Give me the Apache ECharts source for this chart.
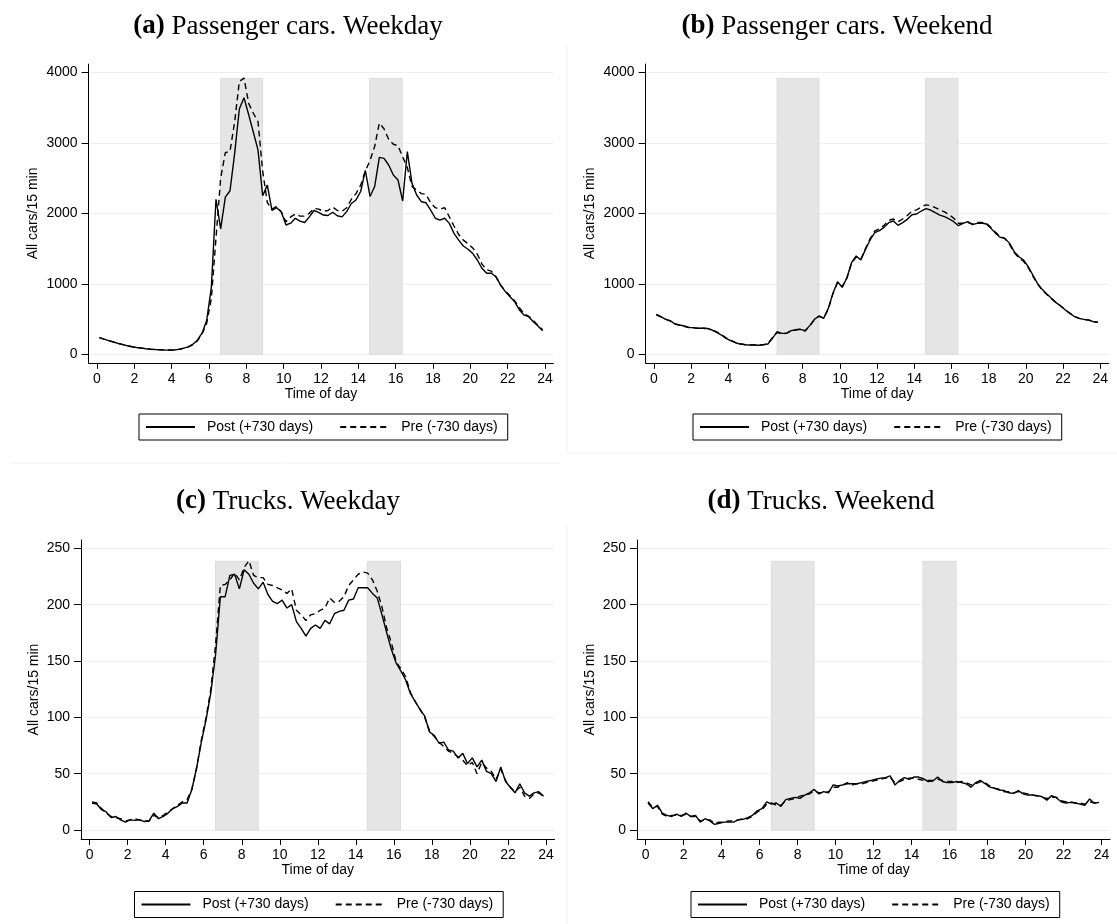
<!DOCTYPE html>
<html>
<head>
<meta charset="utf-8">
<title>Traffic counts by time of day</title>
<script src="https://cdn.jsdelivr.net/npm/echarts@6/dist/echarts.min.js"></script>
<style>
  html, body { margin: 0; padding: 0; background: #fff; }
  #chart { width: 1117px; height: 924px; }
</style>
</head>
<body>
<div id="chart"></div>
<script>
// 15-minute bins, plotted at the middle of each bin (hours)
var hours = [];
for (var i = 0; i < 96; i++) {
  hours.push(0.125 + i * 0.25);
}

var xTicks = [0, 2, 4, 6, 8, 10, 12, 14, 16, 18, 20, 22, 24];
var carTicks = [0, 1000, 2000, 3000, 4000];
var truckTicks = [0, 50, 100, 150, 200, 250];

// peak-hour bands (hours)
var bandMorning = [6.62, 8.87];
var bandAfternoon = [14.6, 16.35];
var carBandTop = 3915;
var truckBandTop = 238.5;

var postName = 'Post (+730 days)';
var preName = 'Pre (-730 days)';

// (a) Passenger cars, weekday
var carsWeekdayPost = [236, 215, 195, 175, 155, 138, 122, 108, 97, 88,
  80, 73, 68, 65, 62, 60, 62, 70, 85, 105,
  140, 200, 300, 480, 950, 2200, 1780, 2230, 2320, 2850,
  3480, 3640, 3400, 3150, 2900, 2250, 2400, 2040, 2080, 2020,
  1835, 1860, 1930, 1890, 1870, 1950, 2040, 2015, 1976, 1970,
  2015, 1966, 1950, 2024, 2140, 2190, 2310, 2610, 2240, 2380,
  2794, 2780, 2686, 2544, 2473, 2175, 2875, 2425, 2260, 2165,
  2150, 2047, 1930, 1905, 1930, 1858, 1716, 1620, 1537, 1490,
  1432, 1338, 1220, 1150, 1150, 1100, 983, 890, 818, 747,
  630, 558, 534, 463, 402, 336];
var carsWeekdayPre = [238, 216, 196, 176, 156, 139, 123, 109, 98, 89,
  81, 74, 69, 66, 63, 61, 63, 71, 86, 104,
  135, 190, 285, 440, 790, 1650, 2500, 2860, 2880, 3300,
  3870, 3920, 3560, 3420, 3300, 2600, 2150, 2060, 2100, 2020,
  1880, 1950, 1990, 1960, 1960, 2000, 2070, 2060, 2030, 2040,
  2090, 2040, 2030, 2080, 2200, 2280, 2400, 2600, 2750, 2950,
  3280, 3200, 3050, 2980, 2960, 2800, 2650, 2380, 2330, 2280,
  2270, 2150, 2080, 2060, 2080, 1950, 1820, 1700, 1620, 1570,
  1510, 1420, 1280, 1200, 1180, 1100, 980, 900, 830, 760,
  660, 580, 540, 480, 410, 350];

// (b) Passenger cars, weekend
var carsWeekendPost = [567, 534, 496, 478, 430, 416, 402, 383, 378, 369,
  373, 369, 345, 312, 274, 227, 194, 165, 147, 137,
  132, 132, 128, 137, 147, 227, 321, 298, 298, 336,
  345, 355, 336, 407, 496, 544, 510, 652, 865, 1030,
  950, 1087, 1300, 1395, 1338, 1489, 1622, 1726, 1754, 1801,
  1868, 1891, 1830, 1868, 1915, 1981, 1991, 2033, 2066, 2047,
  2009, 1976, 1953, 1920, 1882, 1825, 1858, 1882, 1839, 1858,
  1863, 1849, 1787, 1716, 1660, 1645, 1574, 1456, 1385, 1338,
  1243, 1125, 1007, 922, 856, 794, 733, 686, 629, 582,
  534, 511, 496, 487, 463, 454];
var carsWeekendPre = [560, 530, 500, 470, 435, 412, 398, 380, 375, 372,
  368, 365, 350, 318, 280, 235, 200, 170, 150, 140,
  135, 134, 130, 135, 150, 240, 310, 290, 300, 330,
  350, 360, 330, 400, 490, 540, 515, 640, 860, 1020,
  960, 1080, 1290, 1380, 1350, 1500, 1640, 1750, 1780, 1830,
  1900, 1920, 1880, 1920, 1970, 2030, 2050, 2090, 2120, 2110,
  2080, 2050, 2020, 1980, 1930, 1860, 1860, 1870, 1850, 1870,
  1870, 1860, 1800, 1730, 1670, 1640, 1560, 1440, 1370, 1320,
  1230, 1110, 1000, 910, 850, 790, 735, 685, 630, 580,
  535, 510, 495, 485, 465, 455];

// (c) Trucks, weekday
var trucksWeekdayPost = [24, 23, 18, 16, 11, 12, 9, 7, 9, 8.5,
  9, 7.5, 8, 15, 10, 12, 15, 19, 21, 24,
  24, 36, 55, 78, 98, 122, 156, 207, 207, 226,
  227, 214, 231, 227, 219, 214, 220, 209, 203, 201,
  204, 197, 200, 185, 179, 172, 179, 182, 179, 186,
  183, 192, 194, 195, 204, 205, 215, 215, 215, 210,
  206, 191, 175, 160, 148, 141, 133, 121, 114, 107,
  101, 87, 84, 77, 78, 71, 70, 64, 68, 59,
  64, 56, 62, 52, 50, 43, 56, 43, 38, 33,
  41, 33, 30, 33, 34, 30];
var trucksWeekdayPre = [25, 24, 19, 15, 12, 11, 10, 8, 9, 10,
  9, 8, 8, 13, 11, 13, 16, 19, 22, 25,
  27, 36, 55, 80, 100, 125, 165, 217, 218, 222,
  228, 222, 233, 239, 226, 224, 224, 218, 217, 215,
  213, 210, 214, 195, 191, 186, 191, 192, 195, 197,
  206, 202, 203, 207, 217, 222, 227, 229, 228, 222,
  212, 198, 179, 166, 149, 143, 136, 122, 114, 107,
  100, 88, 83, 78, 74, 70, 68, 65, 62, 57,
  60, 50, 60, 55, 52, 45, 54, 44, 38, 34,
  38, 30, 28, 32, 33, 30];

// (d) Trucks, weekend
var trucksWeekendPost = [24, 19, 22, 15, 13, 12, 14, 12, 15, 12,
  13, 7, 10, 8, 5, 6, 7, 7, 7, 9,
  9.5, 11, 13, 17, 19, 25, 23, 24, 21, 27,
  28, 29, 28, 31, 33, 36, 32, 34, 33, 40,
  39, 40, 41, 41, 41, 42, 43, 44, 45, 46,
  46.5, 48, 40, 44, 46.5, 45, 47, 47, 45.5, 43,
  43.5, 47, 43, 42, 42, 43, 42, 41, 38, 42,
  44, 41, 38, 37, 35.5, 35, 33, 32.5, 35, 32,
  31, 31, 30.5, 29.5, 26.5, 30.5, 28.7, 25, 24, 24.5,
  24, 23, 22, 27.5, 23.7, 24.5];
var trucksWeekendPre = [25, 20, 21, 14, 12, 13, 13, 13, 14, 12,
  12, 8, 9, 9, 6, 7, 7, 8, 8, 9,
  10, 10, 12, 16, 18, 23, 24, 22, 22, 26,
  27, 28, 30, 31, 32, 35, 33, 33, 34, 38,
  38, 40, 42, 40, 41, 41, 42, 43, 44, 45,
  46, 47, 42, 43, 45, 46, 46, 45, 44, 44,
  44, 45, 44, 43, 43, 42, 43, 42, 40, 41,
  43, 42, 39, 37, 36, 34, 34, 33, 34, 33,
  32, 31, 30, 29, 28, 29, 29, 26, 25, 25,
  24, 24, 23, 25, 24, 24];

var sansFont = '"Liberation Sans", Arial, Helvetica, sans-serif';
var serifFont = '"Liberation Serif", "Times New Roman", serif';
var gridColor = '#e9f1f2';
var frameColor = '#eef3f3';

var panels = [
  { tag: '(a)', title: 'Passenger cars. Weekday', cx: 288, ty: 13,
    grid: { left: 88.6, top: 64.1, width: 464.8, height: 298.7 },
    yMin: -120, yMax: 4117, yTicks: carTicks, bandTop: carBandTop, nameGap: 48,
    legend: { left: 139, top: 414 }, post: carsWeekdayPost, pre: carsWeekdayPre },
  { tag: '(b)', title: 'Passenger cars. Weekend', cx: 837, ty: 13,
    grid: { left: 645.6, top: 64.1, width: 463, height: 298.7 },
    yMin: -120, yMax: 4117, yTicks: carTicks, bandTop: carBandTop, nameGap: 48,
    legend: { left: 693, top: 414 }, post: carsWeekendPost, pre: carsWeekendPre },
  { tag: '(c)', title: 'Trucks. Weekday', cx: 288, ty: 488,
    grid: { left: 81.1, top: 540, width: 473.4, height: 299 },
    yMin: -8, yMax: 257.4, yTicks: truckTicks, bandTop: truckBandTop, nameGap: 40,
    legend: { left: 134.5, top: 891.5 }, post: trucksWeekdayPost, pre: trucksWeekdayPre },
  { tag: '(d)', title: 'Trucks. Weekend', cx: 821, ty: 488,
    grid: { left: 637.1, top: 540, width: 472.9, height: 299 },
    yMin: -8, yMax: 257.4, yTicks: truckTicks, bandTop: truckBandTop, nameGap: 40,
    legend: { left: 691, top: 891.5 }, post: trucksWeekendPost, pre: trucksWeekendPre }
];

function pairs(values) {
  return values.map(function (v, k) { return [hours[k], v]; });
}

var titles = [], grids = [], xAxes = [], yAxes = [], legends = [], series = [];

panels.forEach(function (p, idx) {
  titles.push({
    text: '{b|' + p.tag + '} ' + p.title,
    left: p.cx,
    top: p.ty,
    textAlign: 'center',
    padding: 0,
    textStyle: {
      fontFamily: serifFont, fontSize: 27, fontWeight: 'normal', color: '#000',
      rich: { b: { fontFamily: serifFont, fontSize: 27, fontWeight: 'bold', color: '#000' } }
    }
  });
  grids.push(Object.assign({ containLabel: false }, p.grid));
  xAxes.push({
    gridIndex: idx,
    type: 'value',
    min: -0.45,
    max: 24.45,
    name: 'Time of day',
    nameLocation: 'middle',
    nameGap: 20,
    nameTextStyle: { fontFamily: sansFont, fontSize: 14, color: '#000' },
    axisLine: { show: true, onZero: false, lineStyle: { color: '#000', width: 1 } },
    axisTick: { show: true, length: 6, customValues: xTicks, lineStyle: { color: '#000' } },
    axisLabel: { customValues: xTicks, margin: 9, fontFamily: sansFont, fontSize: 14, color: '#000' },
    splitLine: { show: false }
  });
  yAxes.push({
    gridIndex: idx,
    type: 'value',
    min: p.yMin,
    max: p.yMax,
    name: 'All cars/15 min',
    nameLocation: 'middle',
    nameGap: p.nameGap,
    nameRotate: 90,
    nameTextStyle: { fontFamily: sansFont, fontSize: 14, color: '#000' },
    axisLine: { show: true, onZero: false, lineStyle: { color: '#000', width: 1 } },
    axisTick: { show: true, length: 7, customValues: p.yTicks, lineStyle: { color: '#000' } },
    axisLabel: {
      customValues: p.yTicks, margin: 11, fontFamily: sansFont, fontSize: 14, color: '#000',
      formatter: function (v) { return String(v); }
    },
    splitLine: { show: true, lineStyle: { color: gridColor, width: 1.2 } }
  });
  legends.push({
    data: [postName, preName],
    left: p.legend.left,
    top: p.legend.top,
    orient: 'horizontal',
    itemWidth: 49,
    itemHeight: 14,
    itemGap: 26,
    padding: [6, 10, 6, 6],
    borderColor: '#000',
    borderWidth: 1,
    selectedMode: false,
    itemStyle: { opacity: 0 },
    textStyle: { fontFamily: sansFont, fontSize: 14, color: '#000', padding: [0, 0, 0, 7] }
  });
  // grey shaded peak hours
  series.push({
    type: 'line',
    name: 'peak' + idx,
    xAxisIndex: idx,
    yAxisIndex: idx,
    data: [],
    silent: true,
    z: 1,
    markArea: {
      silent: true,
      itemStyle: { color: '#e5e5e5', borderColor: '#dcdcdc', borderWidth: 1 },
      data: [
        [{ xAxis: bandMorning[0], yAxis: 0 }, { xAxis: bandMorning[1], yAxis: p.bandTop }],
        [{ xAxis: bandAfternoon[0], yAxis: 0 }, { xAxis: bandAfternoon[1], yAxis: p.bandTop }]
      ]
    }
  });
  series.push({
    type: 'line',
    name: preName,
    xAxisIndex: idx,
    yAxisIndex: idx,
    data: pairs(p.pre),
    symbol: 'none',
    showSymbol: false,
    z: 3,
    lineStyle: { color: '#000', width: 1.4, type: [6, 4] },
    itemStyle: { color: '#000' }
  });
  series.push({
    type: 'line',
    name: postName,
    xAxisIndex: idx,
    yAxisIndex: idx,
    data: pairs(p.post),
    symbol: 'none',
    showSymbol: false,
    z: 4,
    lineStyle: { color: '#000', width: 1.4 },
    itemStyle: { color: '#000' }
  });
});

// faint outlines of the sub-figure images
var frameLines = [
  { x1: 567, y1: 45, x2: 567, y2: 453 },
  { x1: 567, y1: 453, x2: 1117, y2: 453 },
  { x1: 11, y1: 463, x2: 560, y2: 463 },
  { x1: 567, y1: 525, x2: 567, y2: 924 }
];

var chart = echarts.init(document.getElementById('chart'), null, { renderer: 'canvas' });
chart.setOption({
  backgroundColor: '#fff',
  animation: false,
  title: titles,
  grid: grids,
  xAxis: xAxes,
  yAxis: yAxes,
  legend: legends,
  series: series,
  graphic: frameLines.map(function (l) {
    return {
      type: 'line',
      silent: true,
      z: -1,
      shape: l,
      style: { stroke: frameColor, lineWidth: 1 }
    };
  })
});
window.addEventListener('resize', function () {
  chart.resize();
});
</script>
</body>
</html>
